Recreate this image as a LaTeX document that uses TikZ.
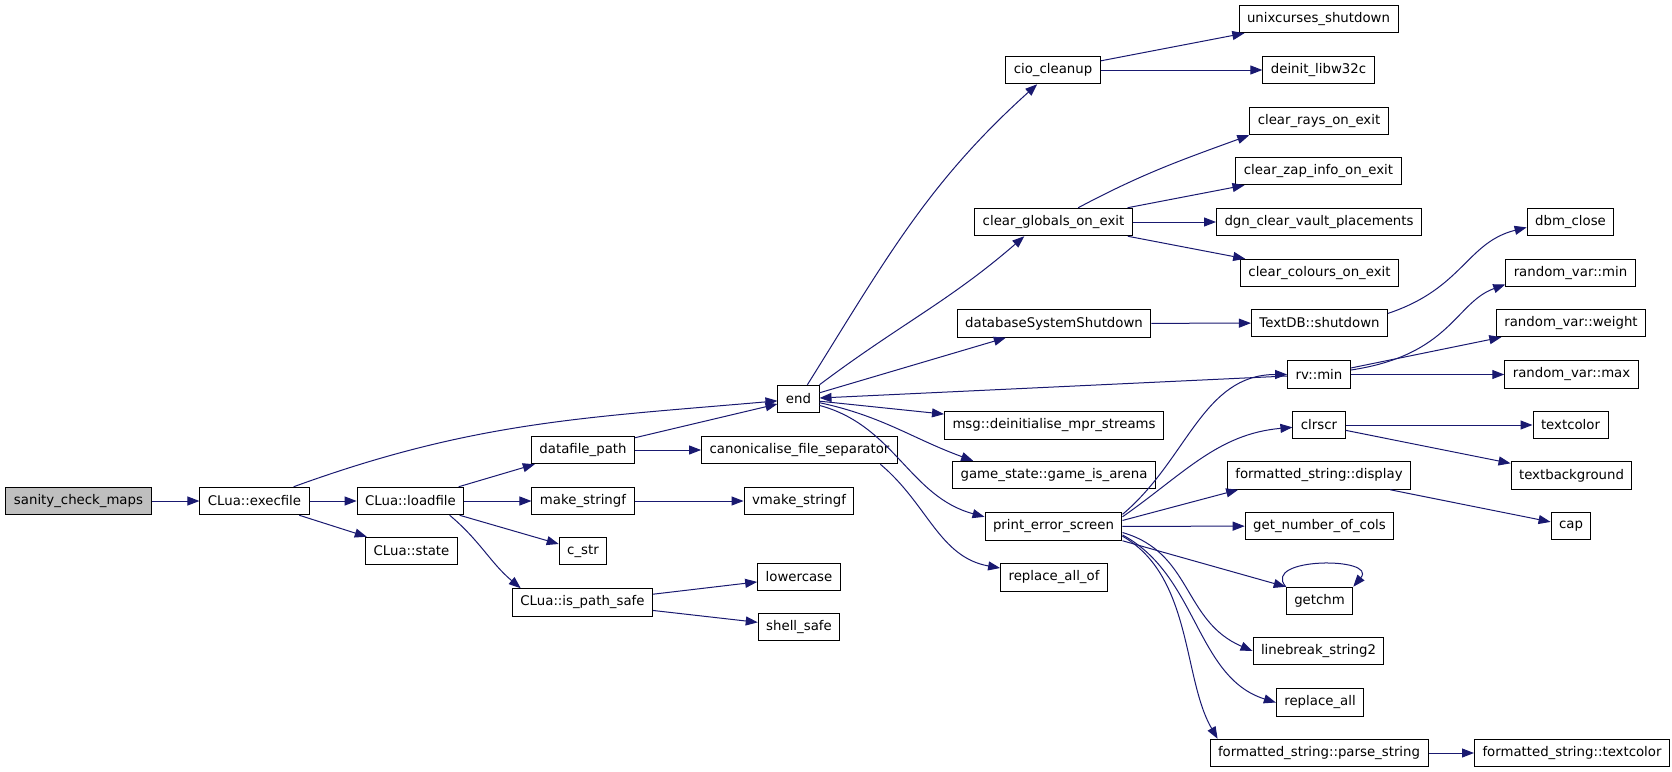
\documentclass[tikz,border=0pt]{standalone}
\usepackage{fontspec}
\setmainfont{DejaVu Sans}
\usepackage{tikz}
\usetikzlibrary{arrows.meta}
\definecolor{edgeblue}{HTML}{191970}
\definecolor{rootgray}{HTML}{BFBFBF}
\tikzset{
  fn/.style={draw=black, line width=1pt, fill=white, inner xsep=8pt, inner ysep=0pt, minimum height=27.5pt, font=\fontsize{13.3}{16}\selectfont},
  root/.style={fn, fill=rootgray},
  call/.style={draw=edgeblue, line width=1pt, -{Triangle[length=12pt,width=9pt]}}
}
\begin{document}
\begin{tikzpicture}[x=1pt,y=1pt]
  \useasboundingbox (0,0) rectangle (1672,-771);
  \node[root] (sanity) at (78.5,-501) {sanity\_check\_maps};
  \node[fn] (execfile) at (254.5,-501) {CLua::execfile};
  \node[fn] (loadfile) at (410.5,-501) {CLua::loadfile};
  \node[fn] (luastate) at (411.5,-551) {CLua::state};
  \node[fn] (datapath) at (583,-450) {datafile\_path};
  \node[fn] (mkstringf) at (583,-501) {make\_stringf};
  \node[fn] (cstr) at (583,-551) {c\_str};
  \node[fn] (pathsafe) at (582.5,-602.5) {CLua::is\_path\_safe};
  \node[fn] (canonsep) at (799.5,-450) {canonicalise\_file\_separator};
  \node[fn] (vmkstringf) at (799,-501) {vmake\_stringf};
  \node[fn] (lowercase) at (799,-577) {lowercase};
  \node[fn] (shellsafe) at (799,-627) {shell\_safe};
  \node[fn] (endfn) at (798.5,-399) {end};
  \node[fn] (ciocleanup) at (1053,-70) {cio\_cleanup};
  \node[fn] (clearglobals) at (1053.5,-222) {clear\_globals\_on\_exit};
  \node[fn] (dbshutdown) at (1054,-323.5) {databaseSystemShutdown};
  \node[fn] (msgdeinit) at (1054,-425.5) {msg::deinitialise\_mpr\_streams};
  \node[fn] (isarena) at (1054,-475) {game\_state::game\_is\_arena};
  \node[fn] (errscreen) at (1053.5,-526.5) {print\_error\_screen};
  \node[fn] (replallof) at (1054,-577.5) {replace\_all\_of};
  \node[fn] (unixcurses) at (1318.5,-19) {unixcurses\_shutdown};
  \node[fn] (deinitw32) at (1318.5,-70) {deinit\_libw32c};
  \node[fn] (clearrays) at (1319,-121) {clear\_rays\_on\_exit};
  \node[fn] (clearzap) at (1318.5,-171) {clear\_zap\_info\_on\_exit};
  \node[fn] (vaultplace) at (1319,-222) {dgn\_clear\_vault\_placements};
  \node[fn] (clearcolours) at (1319.5,-273) {clear\_colours\_on\_exit};
  \node[fn] (textdbshut) at (1319.5,-323) {TextDB::shutdown};
  \node[fn] (rvmin) at (1319,-374.5) {rv::min};
  \node[fn] (clrscr) at (1319,-425) {clrscr};
  \node[fn] (fsdisplay) at (1319,-475.5) {formatted\_string::display};
  \node[fn] (numcols) at (1319.5,-526) {get\_number\_of\_cols};
  \node[fn] (getchm) at (1319.5,-601) {getchm};
  \node[fn] (linebreak) at (1318.5,-651) {linebreak\_string2};
  \node[fn] (replall) at (1320,-702.5) {replace\_all};
  \node[fn] (parsestr) at (1319,-753) {formatted\_string::parse\_string};
  \node[fn] (dbmclose) at (1570.5,-222) {dbm\_close};
  \node[fn] (rvarmin) at (1570.5,-273) {random\_var::min};
  \node[fn] (rvarweight) at (1571,-323) {random\_var::weight};
  \node[fn] (rvarmax) at (1571.5,-374.5) {random\_var::max};
  \node[fn] (textcolor) at (1570.5,-425) {textcolor};
  \node[fn] (textbg) at (1571.5,-475.5) {textbackground};
  \node[fn] (cap) at (1571,-526) {cap};
  \node[fn] (fstextcolor) at (1572,-753) {formatted\_string::textcolor};

  \draw[call] (sanity) -- (execfile);
  \draw[call] (execfile) to[out=20,in=185] (endfn);
  \draw[call] (execfile) -- (loadfile);
  \draw[call] (execfile) -- (luastate);
  \draw[call] (loadfile) -- (datapath);
  \draw[call] (loadfile) -- (mkstringf);
  \draw[call] (loadfile) -- (cstr);
  \draw[call] (loadfile.-20) to[out=-40,in=140] (pathsafe.167);
  \draw[call] (datapath) -- (endfn);
  \draw[call] (datapath) -- (canonsep);
  \draw[call] (mkstringf) -- (vmkstringf);
  \draw[call] (pathsafe) -- (lowercase);
  \draw[call] (pathsafe) -- (shellsafe);
  \draw[call] (canonsep.-10) to[out=-40,in=170] (replallof);
  \draw[call] (endfn) to[out=58,in=-138] (ciocleanup);
  \draw[call] (endfn.north east) to[out=37,in=-139] (clearglobals.-154);
  \draw[call] (endfn) -- (dbshutdown);
  \draw[call] (endfn) -- (msgdeinit);
  \draw[call] (endfn.-10) to[out=-12,in=160] (isarena.170);
  \draw[call] (endfn.-17) to[out=-15,in=165] (errscreen.172);
  \draw[call] (rvmin) -- (endfn);
  \draw[call] (ciocleanup) -- (unixcurses);
  \draw[call] (ciocleanup) -- (deinitw32);
  \draw[call] (clearglobals.30) to[out=28,in=-160] (clearrays.south west);
  \draw[call] (clearglobals) -- (clearzap);
  \draw[call] (clearglobals) -- (vaultplace);
  \draw[call] (clearglobals) -- (clearcolours);
  \draw[call] (dbshutdown) -- (textdbshut);
  \draw[call] (textdbshut.8) .. controls +(75,25) and +(-60,-15) .. (dbmclose.187);
  \draw[call] (rvmin.8) .. controls +(100,15) and +(-50,-18) .. (rvarmin.190);
  \draw[call] (rvmin) -- (rvarweight);
  \draw[call] (rvmin) -- (rvarmax);
  \draw[call] (errscreen.10) to[out=40,in=180] (rvmin);
  \draw[call] (errscreen.8) to[out=35,in=185] (clrscr);
  \draw[call] (errscreen.5) -- (fsdisplay.190);
  \draw[call] (errscreen) -- (numcols);
  \draw[call] (errscreen.south east) -- (getchm.north west);
  \draw[call] (getchm.north west) .. controls +(-25,30) and +(25,30) .. (getchm.north east);
  \draw[call] (errscreen.-5) .. controls +(70,-20) and +(-70,30) .. (linebreak.west);
  \draw[call] (errscreen.-7) .. controls +(75,-40) and +(-80,25) .. (replall.west);
  \draw[call] (errscreen.-8) .. controls +(70,-40) and +(-35,60) .. (parsestr.172);
  \draw[call] (clrscr) -- (textcolor);
  \draw[call] (clrscr) -- (textbg);
  \draw[call] (fsdisplay) -- (cap);
  \draw[call] (parsestr) -- (fstextcolor);
\end{tikzpicture}
\end{document}
